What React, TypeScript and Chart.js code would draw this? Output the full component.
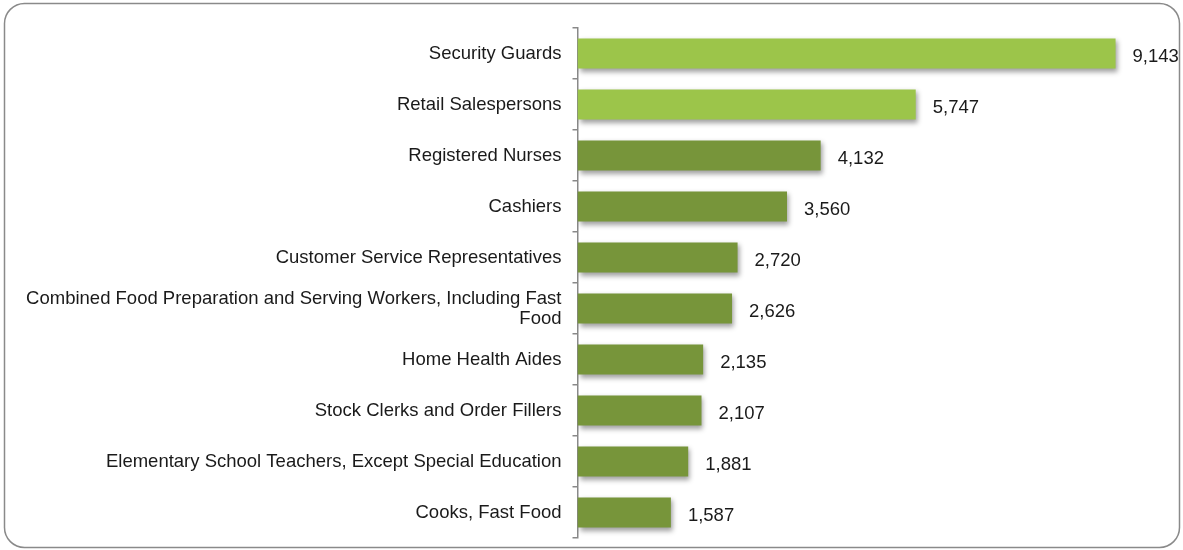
import React, { useEffect, useRef } from "react";
import { Chart, registerables } from "chart.js";

Chart.register(...registerables);

const categories: (string | string[])[] = [
  "Security Guards",
  "Retail Salespersons",
  "Registered Nurses",
  "Cashiers",
  "Customer Service Representatives",
  ["Combined Food Preparation and Serving Workers, Including Fast", "Food"],
  "Home Health Aides",
  "Stock Clerks and Order Fillers",
  "Elementary School Teachers, Except Special Education",
  "Cooks, Fast Food",
];

const values: number[] = [9143, 5747, 4132, 3560, 2720, 2626, 2135, 2107, 1881, 1587];

const highlighted: boolean[] = [true, true, false, false, false, false, false, false, false, false];

const LIGHT = "#9cc54a";
const DARK = "#77953a";
const FONT = "'Liberation Sans', Arial, sans-serif";

const framePlugin = {
  id: "frame",
  beforeDraw(chart: any) {
    const ctx = chart.ctx;
    ctx.save();
    ctx.fillStyle = "#ffffff";
    ctx.fillRect(0, 0, chart.width, chart.height);
    ctx.strokeStyle = "#8a8a8a";
    ctx.lineWidth = 1.5;
    ctx.beginPath();
    (ctx as any).roundRect(4.5, 3.5, 1175, 544, 20);
    ctx.stroke();
    ctx.restore();
  },
};

const shadowPlugin = {
  id: "barShadow",
  beforeDatasetsDraw(chart: any) {
    const ctx = chart.ctx;
    ctx.save();
    ctx.shadowColor = "rgba(0,0,0,0.38)";
    ctx.shadowBlur = 5;
    ctx.shadowOffsetX = 2;
    ctx.shadowOffsetY = 3;
  },
  afterDatasetsDraw(chart: any) {
    chart.ctx.restore();
    const ctx = chart.ctx;
    const meta = chart.getDatasetMeta(0);
    ctx.save();
    ctx.font = `18.5px ${FONT}`;
    ctx.fillStyle = "#1a1a1a";
    ctx.textAlign = "left";
    ctx.textBaseline = "middle";
    meta.data.forEach((el: any, i: number) => {
      const v = values[i];
      ctx.fillText(v.toLocaleString("en-US"), el.x + 17, el.y + 3);
    });
    ctx.restore();
  },
};

export default function App() {
  const ref = useRef<HTMLCanvasElement>(null);

  useEffect(() => {
    if (!ref.current) return;
    Chart.defaults.font.family = FONT;
    const chart = new Chart(ref.current, {
      type: "bar",
      data: {
        labels: categories,
        datasets: [
          {
            data: values,
            backgroundColor: highlighted.map((h) => (h ? LIGHT : DARK)),
            borderWidth: 0,
            barPercentage: 0.59,
            categoryPercentage: 1,
          },
        ],
      },
      options: {
        indexAxis: "y",
        animation: false,
        responsive: false,
        maintainAspectRatio: false,
        layout: { padding: { top: 28, bottom: 12, left: 0, right: 17 } },
        plugins: {
          legend: { display: false },
          tooltip: { enabled: false },
        },
        scales: {
          x: { display: false, min: 0, max: 10000 },
          y: {
            afterFit: (s: any) => {
              s.width = 577.5;
              s.paddingTop = 0;
              s.paddingBottom = 0;
            },
            grid: {
              display: true,
              drawOnChartArea: false,
              drawTicks: true,
              tickLength: 5,
              color: "#898989",
              lineWidth: 1.5,
              offset: true,
            },
            border: { display: true, color: "#898989", width: 1.5 },
            ticks: {
              color: "#1a1a1a",
              font: { size: 18.5, family: FONT, lineHeight: 1.08 },
              padding: 11,
              autoSkip: false,
            },
          },
        },
      },
      plugins: [framePlugin, shadowPlugin],
    });
    return () => chart.destroy();
  }, []);

  return (
    <div style={{ position: "absolute", left: 0, top: 0, width: 1183, height: 550 }}>
      <canvas ref={ref} width={1183} height={550} style={{ width: 1183, height: 550, display: "block" }} />
    </div>
  );
}
